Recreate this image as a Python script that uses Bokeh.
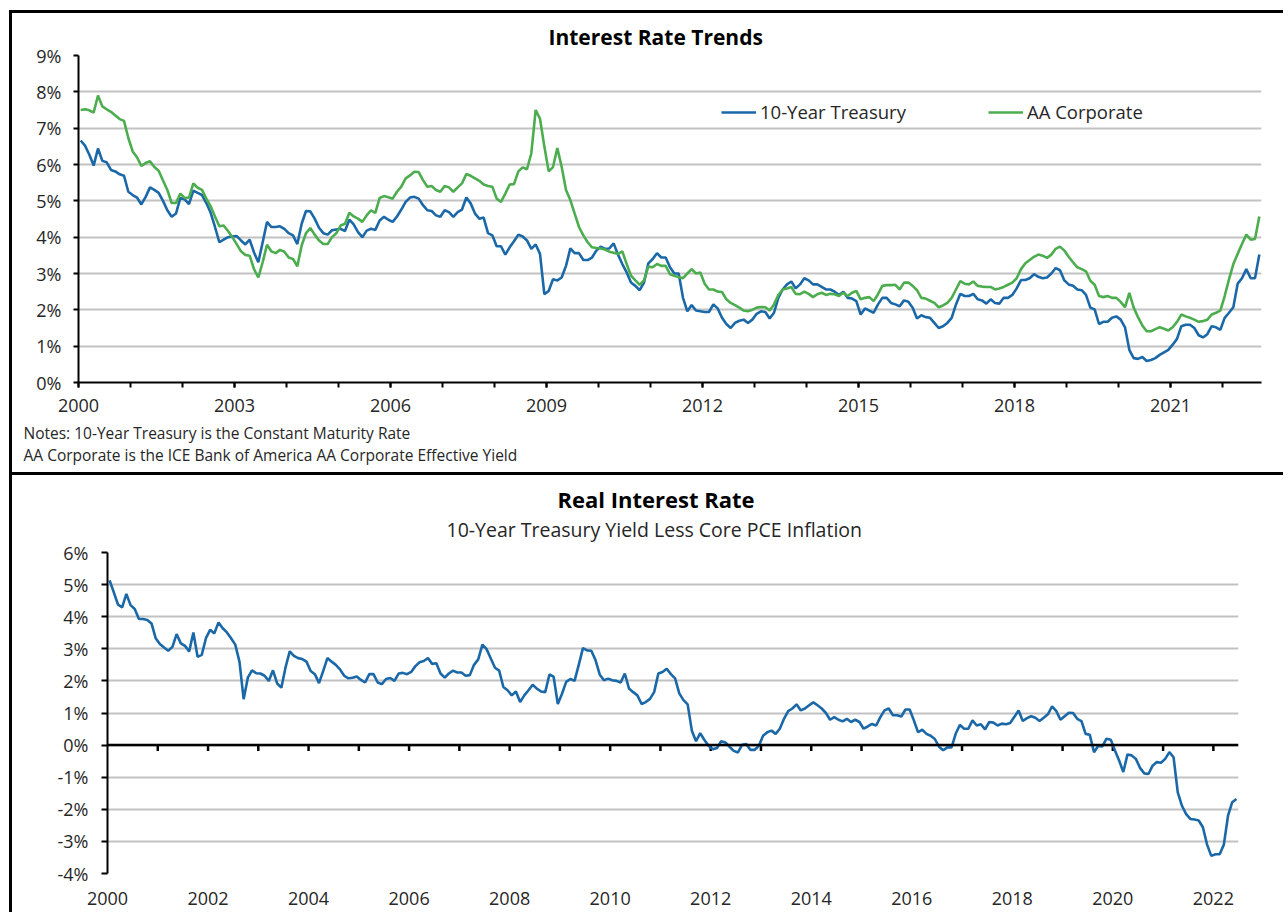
from bokeh.plotting import figure
from bokeh.models import (Range1d, FixedTicker, PrintfTickFormatter, Span, Title,
                          Legend, LegendItem, ColumnDataSource, LinearAxis)
from bokeh.embed import file_html
from bokeh.resources import INLINE

# ---------------- data (monthly, Jan 2000 onward, percent) ----------------
START_YEAR = 2000

treasury_10y = [
    6.66, 6.52, 6.27, 5.97, 6.44, 6.10, 6.06, 5.85, 5.81, 5.73,
    5.69, 5.25, 5.16, 5.09, 4.90, 5.11, 5.37, 5.30, 5.22, 5.00,
    4.74, 4.56, 4.65, 5.08, 5.04, 4.91, 5.28, 5.22, 5.16, 4.94,
    4.67, 4.28, 3.86, 3.93, 4.00, 4.02, 4.03, 3.91, 3.80, 3.93,
    3.58, 3.31, 3.86, 4.42, 4.28, 4.28, 4.30, 4.23, 4.11, 4.05,
    3.81, 4.37, 4.72, 4.71, 4.51, 4.26, 4.11, 4.07, 4.19, 4.21,
    4.23, 4.17, 4.48, 4.35, 4.14, 4.00, 4.18, 4.23, 4.20, 4.46,
    4.56, 4.48, 4.42, 4.57, 4.76, 4.97, 5.09, 5.11, 5.06, 4.88,
    4.74, 4.72, 4.60, 4.56, 4.74, 4.69, 4.56, 4.69, 4.76, 5.09,
    4.93, 4.65, 4.51, 4.54, 4.11, 4.05, 3.75, 3.75, 3.52, 3.72,
    3.89, 4.07, 4.02, 3.91, 3.68, 3.80, 3.54, 2.43, 2.52, 2.84,
    2.81, 2.89, 3.21, 3.69, 3.56, 3.56, 3.37, 3.37, 3.44, 3.63,
    3.74, 3.68, 3.69, 3.83, 3.52, 3.26, 3.03, 2.75, 2.66, 2.54,
    2.75, 3.28, 3.40, 3.56, 3.44, 3.44, 3.17, 3.00, 3.00, 2.33,
    1.96, 2.13, 1.98, 1.96, 1.94, 1.94, 2.15, 2.04, 1.78, 1.61,
    1.50, 1.64, 1.70, 1.73, 1.64, 1.73, 1.89, 1.96, 1.94, 1.76,
    1.92, 2.33, 2.56, 2.70, 2.78, 2.59, 2.70, 2.87, 2.81, 2.70,
    2.70, 2.63, 2.56, 2.56, 2.50, 2.41, 2.50, 2.33, 2.31, 2.24,
    1.87, 2.04, 1.98, 1.92, 2.15, 2.33, 2.33, 2.19, 2.15, 2.10,
    2.26, 2.22, 2.06, 1.76, 1.85, 1.80, 1.78, 1.64, 1.50, 1.55,
    1.64, 1.78, 2.15, 2.44, 2.38, 2.38, 2.44, 2.29, 2.26, 2.17,
    2.29, 2.19, 2.17, 2.33, 2.33, 2.41, 2.59, 2.82, 2.82, 2.87,
    2.98, 2.91, 2.87, 2.89, 3.00, 3.15, 3.09, 2.81, 2.70, 2.66,
    2.56, 2.54, 2.41, 2.06, 2.01, 1.61, 1.67, 1.67, 1.78, 1.82,
    1.73, 1.52, 0.90, 0.67, 0.65, 0.70, 0.59, 0.62, 0.67, 0.76,
    0.83, 0.90, 1.04, 1.20, 1.55, 1.59, 1.59, 1.50, 1.30, 1.24,
    1.33, 1.55, 1.52, 1.45, 1.78, 1.92, 2.07, 2.72, 2.87, 3.12,
    2.87, 2.87, 3.52,
]

aa_corporate = [
    7.50, 7.52, 7.49, 7.43, 7.90, 7.60, 7.52, 7.45, 7.35, 7.25,
    7.20, 6.73, 6.36, 6.20, 5.96, 6.04, 6.09, 5.93, 5.83, 5.56,
    5.30, 4.94, 4.94, 5.20, 5.08, 5.09, 5.48, 5.36, 5.30, 5.06,
    4.85, 4.57, 4.30, 4.32, 4.17, 4.00, 3.81, 3.61, 3.51, 3.49,
    3.12, 2.89, 3.31, 3.79, 3.61, 3.56, 3.65, 3.60, 3.44, 3.40,
    3.20, 3.77, 4.11, 4.25, 4.07, 3.91, 3.81, 3.81, 4.00, 4.11,
    4.32, 4.37, 4.67, 4.57, 4.51, 4.42, 4.60, 4.74, 4.67, 5.08,
    5.13, 5.10, 5.06, 5.25, 5.39, 5.62, 5.70, 5.80, 5.79, 5.57,
    5.39, 5.41, 5.30, 5.25, 5.41, 5.37, 5.25, 5.37, 5.48, 5.74,
    5.69, 5.62, 5.55, 5.45, 5.41, 5.39, 5.06, 4.97, 5.20, 5.45,
    5.46, 5.81, 5.92, 5.87, 6.31, 7.50, 7.26, 6.50, 5.81, 5.93,
    6.45, 5.94, 5.30, 5.02, 4.65, 4.28, 4.05, 3.86, 3.72, 3.70,
    3.69, 3.66, 3.60, 3.57, 3.54, 3.61, 3.26, 2.94, 2.81, 2.69,
    2.81, 3.19, 3.17, 3.26, 3.21, 3.21, 2.98, 2.94, 2.90, 2.87,
    3.00, 3.12, 3.00, 3.03, 2.72, 2.56, 2.56, 2.50, 2.49, 2.29,
    2.19, 2.13, 2.06, 1.98, 1.96, 2.00, 2.06, 2.08, 2.07, 1.98,
    2.15, 2.41, 2.56, 2.59, 2.63, 2.44, 2.43, 2.50, 2.44, 2.35,
    2.43, 2.47, 2.41, 2.44, 2.43, 2.38, 2.47, 2.38, 2.47, 2.52,
    2.29, 2.33, 2.35, 2.24, 2.43, 2.66, 2.68, 2.68, 2.69, 2.56,
    2.75, 2.75, 2.66, 2.54, 2.33, 2.31, 2.25, 2.19, 2.07, 2.12,
    2.19, 2.33, 2.56, 2.79, 2.72, 2.70, 2.78, 2.66, 2.64, 2.63,
    2.63, 2.56, 2.59, 2.63, 2.69, 2.75, 2.87, 3.12, 3.28, 3.37,
    3.46, 3.52, 3.49, 3.43, 3.52, 3.68, 3.74, 3.63, 3.46, 3.31,
    3.17, 3.12, 3.06, 2.80, 2.69, 2.38, 2.35, 2.38, 2.33, 2.33,
    2.22, 2.07, 2.47, 2.06, 1.80, 1.57, 1.41, 1.41, 1.47, 1.52,
    1.48, 1.43, 1.52, 1.67, 1.87, 1.82, 1.78, 1.73, 1.67, 1.69,
    1.73, 1.87, 1.92, 1.98, 2.38, 2.84, 3.26, 3.54, 3.81, 4.07,
    3.93, 3.95, 4.57,
]

real_rate = [
    5.13, 4.76, 4.38, 4.29, 4.71, 4.36, 4.24, 3.93, 3.93, 3.90,
    3.79, 3.33, 3.15, 3.04, 2.94, 3.06, 3.46, 3.17, 3.09, 2.92,
    3.51, 2.75, 2.81, 3.33, 3.59, 3.48, 3.82, 3.64, 3.51, 3.33,
    3.13, 2.60, 1.43, 2.10, 2.33, 2.24, 2.23, 2.16, 2.00, 2.33,
    1.92, 1.79, 2.42, 2.92, 2.78, 2.71, 2.68, 2.60, 2.31, 2.21,
    1.93, 2.31, 2.71, 2.60, 2.50, 2.36, 2.16, 2.08, 2.10, 2.14,
    2.03, 1.95, 2.21, 2.21, 1.95, 1.90, 2.06, 2.09, 2.00, 2.23,
    2.25, 2.21, 2.28, 2.46, 2.58, 2.62, 2.71, 2.53, 2.55, 2.23,
    2.10, 2.23, 2.32, 2.26, 2.26, 2.16, 2.18, 2.50, 2.67, 3.13,
    2.99, 2.70, 2.41, 2.32, 1.81, 1.71, 1.55, 1.67, 1.34, 1.55,
    1.71, 1.88, 1.76, 1.67, 1.65, 2.20, 2.13, 1.28, 1.60, 1.97,
    2.06, 2.00, 2.50, 3.02, 2.95, 2.94, 2.65, 2.20, 2.02, 2.07,
    2.02, 2.00, 1.95, 2.23, 1.76, 1.65, 1.55, 1.28, 1.34, 1.44,
    1.65, 2.23, 2.28, 2.38, 2.21, 2.08, 1.61, 1.40, 1.27, 0.45,
    0.12, 0.37, 0.16, -0.02, -0.13, -0.09, 0.12, 0.08, -0.05, -0.18,
    -0.23, 0.01, 0.03, -0.15, -0.15, -0.02, 0.29, 0.40, 0.45, 0.35,
    0.51, 0.82, 1.06, 1.14, 1.27, 1.08, 1.14, 1.24, 1.33, 1.24,
    1.14, 1.00, 0.79, 0.87, 0.79, 0.74, 0.82, 0.72, 0.79, 0.72,
    0.51, 0.58, 0.66, 0.61, 0.87, 1.08, 1.14, 0.93, 0.93, 0.89,
    1.11, 1.11, 0.77, 0.40, 0.48, 0.35, 0.29, 0.19, -0.05, -0.16,
    -0.07, -0.07, 0.36, 0.63, 0.51, 0.51, 0.77, 0.61, 0.65, 0.49,
    0.72, 0.70, 0.61, 0.67, 0.65, 0.69, 0.88, 1.08, 0.75, 0.84,
    0.90, 0.85, 0.75, 0.85, 0.96, 1.21, 1.06, 0.79, 0.90, 1.01,
    1.00, 0.82, 0.75, 0.35, 0.32, -0.22, -0.03, -0.04, 0.20, 0.17,
    -0.17, -0.48, -0.84, -0.29, -0.32, -0.43, -0.71, -0.88, -0.90, -0.64,
    -0.53, -0.55, -0.43, -0.22, -0.38, -1.47, -1.89, -2.15, -2.30, -2.32,
    -2.35, -2.56, -3.10, -3.45, -3.40, -3.40, -3.10, -2.20, -1.78, -1.68,
]

top_label_years = [2000, 2003, 2006, 2009, 2012, 2015, 2018, 2021]
top_tick_years = list(range(2000, 2023))
bottom_label_years = list(range(2000, 2023, 2))
bottom_tick_years = list(range(2001, 2023))
top_y_ticks = list(range(0, 10))
bottom_y_ticks = list(range(-4, 7))

TITLE_TOP = "Interest Rate Trends"
TITLE_BOTTOM = "Real Interest Rate"
SUBTITLE_BOTTOM = "10-Year Treasury Yield Less Core PCE Inflation"
NOTE_1 = "Notes: 10-Year Treasury is the Constant Maturity Rate"
NOTE_2 = "AA Corporate is the ICE Bank of America AA Corporate Effective Yield"


def month_x(n):
    return [START_YEAR + (i + 0.5) / 12.0 for i in range(n)]


# ---------------- style ----------------
BLUE = "#1b68a8"
GREEN = "#4cad4f"
GRID = "#c2c2c2"
TXT = "#262626"
FONT = "Open Sans"
W = 1274


def make_fig(h, l, r, t, b, xr, yr, margin_top):
    p = figure(width=W, height=h, x_range=Range1d(*xr), y_range=Range1d(*yr),
               title=None, output_backend="svg", toolbar_location=None,
               min_border_left=l, min_border_right=r, min_border_top=t, min_border_bottom=b,
               styles={"border-top": "3px solid black", "border-left": "3px solid black",
                       "margin-left": "9px", "margin-top": f"{margin_top}px"})
    p.outline_line_color = None
    p.background_fill_color = "white"
    p.border_fill_color = "white"
    p.xgrid.grid_line_color = None
    p.ygrid.grid_line_color = GRID
    p.ygrid.grid_line_width = 2
    for ax in (p.xaxis[0], p.yaxis[0]):
        ax.major_label_text_font = FONT
        ax.major_label_text_font_size = "18px"
        ax.major_label_text_color = TXT
        ax.axis_line_color = "black"
        ax.axis_line_width = 2
        ax.major_tick_line_color = "black"
        ax.major_tick_line_width = 2
        ax.major_tick_in = 0
        ax.minor_tick_in = 0
    p.yaxis.formatter = PrintfTickFormatter(format="%d%%")
    p.yaxis.minor_tick_line_color = None
    return p


def gap_axis(px, at):
    """A blank axis (one white tick, no label) that only opens a gap of `px` pixels."""
    return LinearAxis(ticker=FixedTicker(ticks=[at]), axis_line_color=None,
                      major_tick_line_color="white", major_tick_line_width=1,
                      minor_tick_line_color=None, major_tick_out=px, major_tick_in=0,
                      minor_tick_out=0, major_label_standoff=0,
                      major_label_overrides={at: ""}, major_label_text_font_size="1px")


def title(text, size, standoff, valign="middle", bold=False, offset=0, color="black"):
    return Title(text=text, align="left", offset=offset, vertical_align=valign,
                 standoff=standoff, text_font=FONT, text_font_size=size,
                 text_font_style="bold" if bold else "normal", text_color=color)


# ---------------- top chart ----------------
L1, R1, T1, B1 = 66, 25, 42, 93
H1 = 462
p1 = make_fig(H1, L1, R1, T1, B1, (2000, 2022.75), (0, 9), 10)
p1.yaxis.ticker = FixedTicker(ticks=top_y_ticks)
p1.ygrid.ticker = FixedTicker(ticks=top_y_ticks)
p1.yaxis.major_tick_out = 5
p1.yaxis.major_label_standoff = 12
p1.xaxis.ticker = FixedTicker(ticks=top_label_years, minor_ticks=top_tick_years)
p1.xaxis.major_tick_out = 5
p1.xaxis.minor_tick_out = 5
p1.xaxis.minor_tick_line_color = "black"
p1.xaxis.minor_tick_line_width = 2
p1.xaxis.major_label_standoff = 11
p1.xaxis.formatter = PrintfTickFormatter(format="%d")

src1 = ColumnDataSource(dict(x=month_x(len(treasury_10y)), t=treasury_10y, a=aa_corporate))
r_t = p1.line("x", "t", source=src1, line_color=BLUE, line_width=2.6)
r_a = p1.line("x", "a", source=src1, line_color=GREEN, line_width=2.6)

frame_h1 = H1 - T1 - B1
for label, rend, fx in (("10-Year Treasury", r_t, 643), ("AA Corporate", r_a, 910)):
    lg = Legend(items=[LegendItem(label=label, renderers=[rend])],
                location=(fx, frame_h1 - 57 - 12), orientation="horizontal",
                border_line_color=None, background_fill_alpha=0, padding=0, margin=0,
                glyph_width=35, glyph_height=24, label_height=24, label_standoff=4,
                label_text_font=FONT, label_text_font_size="18.5px", label_text_color=TXT)
    p1.add_layout(lg)

p1.add_layout(title(TITLE_TOP, "21px", 7, bold=True, offset=470), "above")
p1.add_layout(gap_axis(5, 2001.5), "below")
p1.add_layout(title(NOTE_1, "15.5px", 0, valign="bottom", offset=-55, color=TXT), "below")
p1.add_layout(title(NOTE_2, "15.5px", 0, valign="top", offset=-55, color=TXT), "below")

# ---------------- bottom chart ----------------
L2, R2, T2, B2 = 95, 48, 77, 42
H2 = 440
p2 = make_fig(H2, L2, R2, T2, B2, (2000, 2022.5), (-4, 6), 0)
p2.yaxis.ticker = FixedTicker(ticks=bottom_y_ticks)
p2.ygrid.ticker = FixedTicker(ticks=bottom_y_ticks)
p2.yaxis.major_tick_out = 6
p2.yaxis.major_label_standoff = 13
p2.xaxis.ticker = FixedTicker(ticks=bottom_label_years)
p2.xaxis.axis_line_color = None
p2.xaxis.major_tick_line_color = None
p2.xaxis.major_tick_out = 0
p2.xaxis.major_label_standoff = 18
p2.xaxis.formatter = PrintfTickFormatter(format="%d")

p2.add_layout(Span(location=0, dimension="width", line_color="black", line_width=2.5))
frame_h2 = H2 - T2 - B2
tick_len = 6 * 10 / frame_h2
p2.segment(x0=bottom_tick_years, y0=[0] * len(bottom_tick_years),
           x1=bottom_tick_years, y1=[-tick_len] * len(bottom_tick_years),
           line_color="black", line_width=2.5)

src2 = ColumnDataSource(dict(x=month_x(len(real_rate)), r=real_rate))
p2.line("x", "r", source=src2, line_color=BLUE, line_width=2.6)

p2.add_layout(gap_axis(4, 2021.9), "above")
p2.add_layout(title(SUBTITLE_BOTTOM, "19.5px", 5.5, valign="top", offset=339, color=TXT), "above")
p2.add_layout(title(TITLE_BOTTOM, "22px", 0, valign="bottom", bold=True, offset=450), "above")

open("out.html", "w").write(file_html([p1, p2], INLINE))
